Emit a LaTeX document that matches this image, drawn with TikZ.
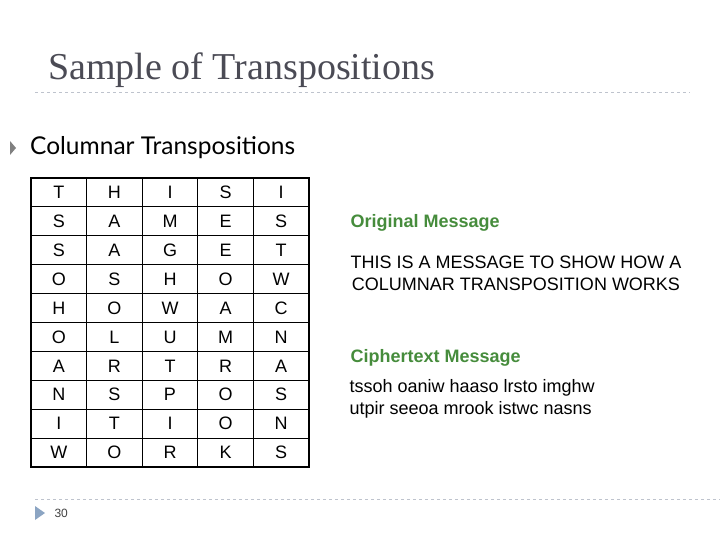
\documentclass[tikz,border=0pt]{standalone}
\usepackage{fontspec}
\setmainfont{Liberation Serif}
\setsansfont{Liberation Sans}
\newfontfamily\gill{Lato}
\definecolor{titlegray}{RGB}{75,75,85}
\definecolor{dashgray}{RGB}{190,195,205}
\definecolor{bulletblue}{RGB}{140,165,195}
\definecolor{msggreen}{RGB}{70,140,60}
\begin{document}
\begin{tikzpicture}[x=1pt,y=-1pt,
  cell/.style={font=\sffamily\fontsize{18}{18}\selectfont,anchor=center},
  label/.style={font=\sffamily\bfseries\fontsize{18}{20}\selectfont,text=msggreen,anchor=west},
  body/.style={font=\sffamily\fontsize{18}{22}\selectfont,anchor=west,align=left}]
\useasboundingbox (0,0) rectangle (720,540);
\node[anchor=base west,font=\fontsize{38}{40}\selectfont,text=titlegray,inner sep=0] (title) at (48,80) {Sample of Transpositions};
\draw[dashgray,dashed,line width=0.8pt] (35,92) -- (690,92);
\fill[gray] (10,141) -- (16,148) -- (10,155) -- cycle;
\node[anchor=west,font=\gill\fontsize{24.5}{26}\selectfont,inner sep=0] (bul) at (30,148) {Columnar Transpositions};
% table
\def\cw{55.6}\def\rh{28.9}
\draw[line width=1.4pt] (31,178) rectangle (309,467);
\foreach \i in {1,...,4} \draw[line width=0.8pt] (31+\i*\cw,178) -- (31+\i*\cw,467);
\foreach \j in {1,...,9} \draw[line width=0.8pt] (31,178+\j*\rh) -- (309,178+\j*\rh);
\foreach \row [count=\j from 0] in {{T,H,I,S,I},{S,A,M,E,S},{S,A,G,E,T},{O,S,H,O,W},{H,O,W,A,C},{O,L,U,M,N},{A,R,T,R,A},{N,S,P,O,S},{I,T,I,O,N},{W,O,R,K,S}}{
  \foreach \c [count=\i from 0] in \row
    \node[cell] (c\i\j) at (31+\cw/2+\i*\cw,178+\rh/2+\j*\rh) {\c};
}
\node[label] (orig) at (347,223) {Original Message};
\node[body,align=center,anchor=center] (msg) at (516,273) {THIS IS A MESSAGE TO SHOW HOW A\\COLUMNAR TRANSPOSITION WORKS};
\node[label] (ciph) at (347,358) {Ciphertext Message};
\node[body] (ct) at (346,399) {tssoh oaniw haaso lrsto imghw\\utpir seeoa mrook istwc nasns};
% footer
\draw[dashgray,dashed,line width=0.8pt] (35,499) -- (720,499);
\fill[bulletblue] (35,506) -- (45,513) -- (35,520) -- cycle;
\node[anchor=west,font=\sffamily\fontsize{12}{12}\selectfont,text=darkgray] (pg) at (51,513) {30};
\end{tikzpicture}
\end{document}
